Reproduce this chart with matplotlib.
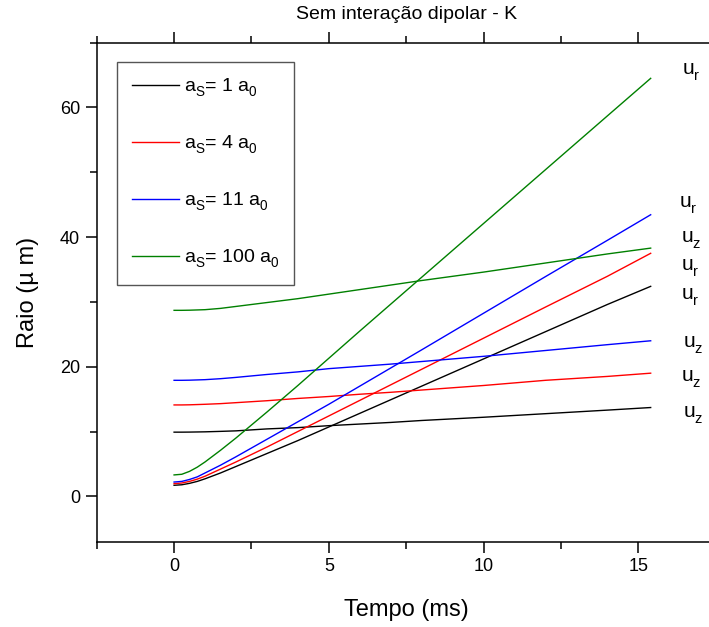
import matplotlib
matplotlib.use("Agg")
import matplotlib.pyplot as plt
from matplotlib.ticker import MultipleLocator

plt.rcParams['font.family'] = ['Liberation Sans', 'DejaVu Sans']
plt.rcParams['mathtext.fontset'] = 'custom'
plt.rcParams['mathtext.rm'] = 'Liberation Sans'
plt.rcParams['mathtext.it'] = 'Liberation Sans'
plt.rcParams['mathtext.bf'] = 'Liberation Sans:bold'
try:
    import matplotlib._mathtext as _mt
    _mt.FontConstantsBase.sub1 = 0.55
    _mt.FontConstantsBase.sub2 = 0.75
except Exception:
    pass

# time (ms)
t = [0, 0.25, 0.5, 0.75, 1, 1.5, 2, 3, 4, 5, 6, 7, 8, 10, 12, 14, 15.4]

# radial widths u_r (um)
ur_1 = [1.7, 1.78, 2.0, 2.3, 2.7, 3.6, 4.6, 6.6, 8.6, 10.7, 12.8, 14.9, 17.0, 21.2, 25.4, 29.6, 32.4]
ur_4 = [1.95, 2.05, 2.3, 2.65, 3.1, 4.2, 5.3, 7.6, 10.0, 12.4, 14.8, 17.2, 19.6, 24.4, 29.2, 33.95, 37.5]
ur_11 = [2.2, 2.3, 2.6, 3.0, 3.6, 4.8, 6.1, 8.8, 11.5, 14.2, 17.0, 19.8, 22.6, 28.25, 33.9, 39.5, 43.45]
ur_100 = [3.3, 3.4, 3.85, 4.5, 5.3, 7.1, 9.0, 13.0, 17.1, 21.3, 25.5, 29.65, 33.8, 42.1, 50.4, 58.7, 64.5]

# axial widths u_z (um)
uz_1 = [9.9, 9.9, 9.91, 9.93, 9.95, 10.02, 10.1, 10.4, 10.6, 10.9, 11.15, 11.4, 11.7, 12.2, 12.75, 13.3, 13.7]
uz_4 = [14.1, 14.1, 14.12, 14.16, 14.2, 14.3, 14.45, 14.75, 15.1, 15.4, 15.75, 16.05, 16.4, 17.1, 17.9, 18.5, 19.0]
uz_11 = [17.9, 17.9, 17.92, 17.96, 18.0, 18.15, 18.35, 18.8, 19.2, 19.7, 20.05, 20.4, 20.8, 21.6, 22.5, 23.4, 24.0]
uz_100 = [28.7, 28.7, 28.72, 28.76, 28.8, 29.0, 29.3, 29.9, 30.5, 31.2, 31.9, 32.6, 33.3, 34.6, 36.0, 37.4, 38.3]

series_labels = [r'a$_{\mathrm{S}}$= 1 a$_{\mathrm{0}}$',
                 r'a$_{\mathrm{S}}$= 4 a$_{\mathrm{0}}$',
                 r'a$_{\mathrm{S}}$= 11 a$_{\mathrm{0}}$',
                 r'a$_{\mathrm{S}}$= 100 a$_{\mathrm{0}}$']
colors = ['#000000', '#ff0000', '#0000ff', '#008000']

# right-hand curve annotations
ann_text = ['r', 'r', 'z', 'r', 'r', 'z', 'z', 'z']
ann_x = [16.4, 16.32, 16.38, 16.38, 16.38, 16.45, 16.38, 16.45]
ann_y = [65.05, 44.5, 39.1, 34.7, 30.3, 22.9, 17.7, 12.1]

fig = plt.figure(figsize=(7.09, 6.27), dpi=100)
ax = fig.add_axes([0.1364, 0.1361, 0.873, 0.7958])

ur_all = [ur_1, ur_4, ur_11, ur_100]
uz_all = [uz_1, uz_4, uz_11, uz_100]
for ur, uz, c, lab in zip(ur_all, uz_all, colors, series_labels):
    ax.plot(t, ur, color=c, lw=1.0, label=lab)
    ax.plot(t, uz, color=c, lw=1.0)

ax.set_xlim(-2.5, 17.5)
ax.set_ylim(-7, 70)
ax.xaxis.set_major_locator(MultipleLocator(5))
ax.xaxis.set_minor_locator(MultipleLocator(2.5))
ax.yaxis.set_major_locator(MultipleLocator(20))
ax.yaxis.set_minor_locator(MultipleLocator(10))
ax.tick_params(which='both', direction='out', width=1.1, top=True, right=True,
               labelsize=13, pad=4)
ax.tick_params(which='major', length=8)
ax.tick_params(which='minor', length=5)
for s in ax.spines.values():
    s.set_linewidth(1.1)

ax.set_xlabel('Tempo (ms)', fontsize=17, labelpad=17)
ax.set_ylabel('Raio (\u00b5 m)', fontsize=17, labelpad=15)
ax.set_title('Sem intera\u00e7\u00e3o dipolar - K', fontsize=14, pad=17)

for s, x, y in zip(ann_text, ann_x, ann_y):
    ax.text(x, y, r'u$_{\mathrm{' + s + '}}$', fontsize=15, ha='left', va='baseline',
            clip_on=False)

leg = ax.legend(loc='upper left', bbox_to_anchor=(0.0328, 0.9613), fontsize=14,
                frameon=True, fancybox=False, framealpha=1, edgecolor='#555555',
                labelspacing=1.78, handlelength=2.42, handletextpad=0.28,
                borderpad=0.75, borderaxespad=0)
leg.get_frame().set_linewidth(1.0)

fig.savefig('out.png', dpi=100)
